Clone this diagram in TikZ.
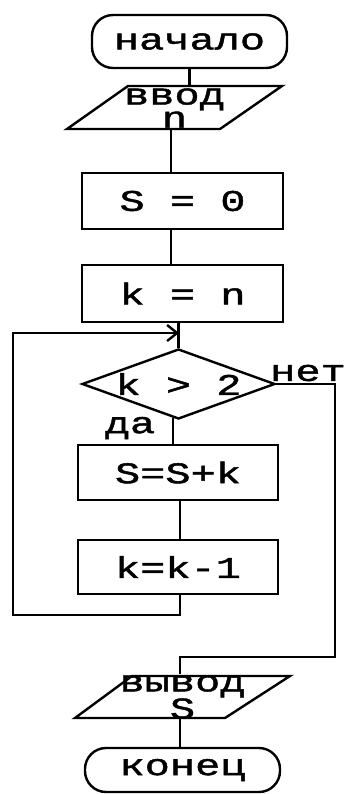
\documentclass[tikz,border=0pt]{standalone}
\usepackage{fontspec}
\setmainfont{Liberation Mono}[FakeStretch=1.4,FakeBold=1.5]
\usetikzlibrary{shapes.geometric,arrows.meta}
\begin{document}
\begin{tikzpicture}[x=1pt,y=-1pt,line width=2.4pt,
  txt/.style={font=\fontsize{30}{20}\selectfont, inner sep=0pt, align=center},
  term/.style={txt, draw, rounded corners=21pt},
  proc/.style={txt, draw},
  cond/.style={txt, draw, diamond, aspect=2.76, inner sep=0pt},
  lbl/.style={txt}]
\useasboundingbox (0,0) rectangle (349,794);
% terminals and blocks
\node[term, minimum width=195pt, minimum height=53pt] (start) at (189.5,41.5) {начало};
\draw (128,86) -- (282,86) -- (220,129) -- (67,129) -- cycle;
\node[txt, minimum width=154pt, minimum height=43pt] (in) at (174.5,108) {ввод\\n};
\node[proc, minimum width=201pt, minimum height=56pt] (s0) at (182.5,201) {S = 0};
\node[proc, minimum width=201pt, minimum height=57pt] (kn) at (182.5,293.5) {k = n};
\node[cond, minimum width=193pt, minimum height=70pt] (cnd) at (178.5,384) {k > 2};
\node[proc, minimum width=200pt, minimum height=55pt] (ssk) at (178,472.5) {S=S+k};
\node[proc, minimum width=200pt, minimum height=54pt] (kk) at (178,567) {k=k-1};
\draw (132,676) -- (290,676) -- (225,718) -- (75,718) -- cycle;
\node[txt, minimum width=158pt, minimum height=42pt] (out) at (182.5,697) {вывод\\S};
\node[term, minimum width=195pt, minimum height=44pt] (end) at (182.5,770) {конец};
% labels
\node[lbl] (no) at (308,373) {нет};
\node[lbl] (yes) at (130,428) {да};
% connectors
\draw (start.south) -- (start.south |- in.north);
\coordinate (a1) at (171,129);
\draw (a1) -- (a1 |- s0.north);
\coordinate (a2) at (171,229);
\draw (a2) -- (a2 |- kn.north);
\draw (cnd.north |- kn.south) -- (cnd.north);
\coordinate (a3) at (173,418);
\draw (a3) -- (a3 |- ssk.north);
\coordinate (a4) at (180,500);
\draw (a4) -- (a4 |- kk.north);
\coordinate (a5) at (180,594);
\coordinate (lp) at (13,615);
\coordinate (lt) at (179,333);
\draw[-{Straight Barb[length=10pt,width=16pt,line width=2.4pt]}] (a5) -- (a5 |- lp) -- (lp) -- (lp |- lt) -- (lt);
\coordinate (r1) at (335,657);
\coordinate (a6) at (180,657);
\draw (cnd.east) -- (cnd.east -| r1) -- (r1) -- (a6) -- (a6 |- out.north);
\coordinate (a7) at (180,718);
\draw (a7) -- (a7 |- end.north);
\end{tikzpicture}
\end{document}
